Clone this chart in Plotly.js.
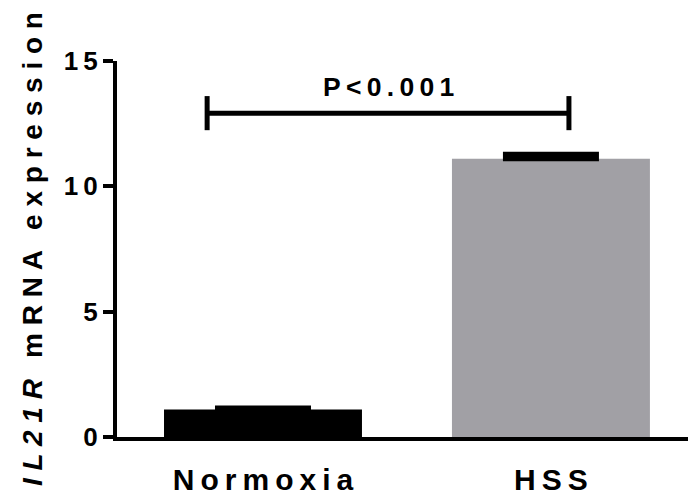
<!DOCTYPE html>
<html>
<head>
<meta charset="utf-8">
<script src="https://cdn.plot.ly/plotly-3.0.1.min.js"></script>
<style>html,body{margin:0;padding:0;background:#fff;} #chart{width:688px;height:497px;}</style>
</head>
<body>
<div id="chart"></div>
<script>
// ---- data ----
const categories = ['Normoxia', 'HSS'];
const values = [1.1, 11.1];
const errorsUp = [0.06, 0.18];
const barColors = ['#000000', '#a1a0a5'];
const yTickVals = [0, 5, 10, 15];
const yTickLabels = ['0', '5', '10', '15'];
const pLabel = 'P<0.001';

// letter-spaced text helper (Prism-style wide tracking)
function spaced(s, gap, word) {
  gap = gap || '\u2009';
  word = word || '\u2002';
  return Array.from(s).map(c => c === ' ' ? word : c).join(gap);
}

const FONT = '"Liberation Sans", Arial, Helvetica, sans-serif';
const xIdx = categories.map((c, i) => i);

const trace = {
  type: 'bar',
  x: xIdx,
  y: values,
  width: 0.6875,
  marker: {color: barColors, line: {width: 0}},
  error_y: {
    type: 'data', array: errorsUp, arrayminus: categories.map(() => 0),
    symmetric: false, color: '#000', thickness: 5, width: 48
  },
  hoverinfo: 'skip'
};

const yTitle = '<i>' + spaced('IL21R', ' ') + '</i> \u2009 ' + spaced('mRNA expression', ' ', '\u2009');

const bracketY = 12.92, bracketL = -0.194, bracketR = 1.0625, bracketH = 0.68;

const layout = {
  width: 688, height: 497,
  margin: {l: 117, r: 0, t: 61, b: 60},
  paper_bgcolor: '#fff', plot_bgcolor: '#fff',
  showlegend: false,
  font: {family: FONT, color: '#000', weight: 'bold'},
  xaxis: {
    range: [-0.507, 1.476],
    tickvals: xIdx,
    ticktext: categories.map(c => spaced(c)),
    ticks: '',
    ticklabelstandoff: 13,
    tickfont: {size: 30, family: FONT, weight: 'bold', color: '#000'},
    showline: true, linecolor: '#000', linewidth: 4,
    showgrid: false, zeroline: false, fixedrange: true
  },
  yaxis: {
    range: [0, 15],
    tickvals: yTickVals,
    ticktext: yTickLabels.map(c => spaced(c)),
    ticks: 'outside', ticklen: 10, tickwidth: 4, tickcolor: '#000',
    tickfont: {size: 26, family: FONT, weight: 'bold', color: '#000'},
    showline: true, linecolor: '#000', linewidth: 4,
    showgrid: false, zeroline: false, fixedrange: true,
    title: {text: yTitle, font: {size: 28, family: FONT, weight: 'bold', color: '#000'}, standoff: 14}
  },
  shapes: [
    {type: 'line', xref: 'x', yref: 'y', x0: bracketL, x1: bracketR, y0: bracketY, y1: bracketY, line: {color: '#000', width: 5}},
    {type: 'line', xref: 'x', yref: 'y', x0: bracketL, x1: bracketL, y0: bracketY - bracketH, y1: bracketY + bracketH, line: {color: '#000', width: 5}},
    {type: 'line', xref: 'x', yref: 'y', x0: bracketR, x1: bracketR, y0: bracketY - bracketH, y1: bracketY + bracketH, line: {color: '#000', width: 5}}
  ],
  annotations: [
    {x: (bracketL + bracketR) / 2, y: 13.96, xref: 'x', yref: 'y', text: spaced(pLabel), showarrow: false,
     font: {size: 26.5, family: FONT, weight: 'bold', color: '#000'}, xanchor: 'center', yanchor: 'middle'}
  ]
};

Plotly.newPlot('chart', [trace], layout, {displayModeBar: false, staticPlot: true});
</script>
</body>
</html>
